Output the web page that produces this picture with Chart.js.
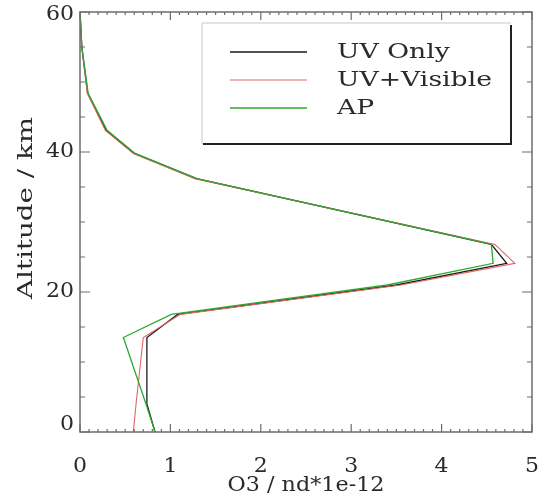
<!DOCTYPE html>
<html>
<head>
<meta charset="utf-8">
<script src="https://cdn.jsdelivr.net/npm/chart.js@4"></script>
<style>
  html, body { margin:0; padding:0; background:#fff; }
  #wrap { width:540px; height:494px; }
</style>
</head>
<body>
<div id="wrap"><canvas id="c" width="540" height="494"></canvas></div>
<script>
// Ozone profiles — altitude (km) vs number density (1e12)
const altitude  = [0,    4,    13.5, 16.8, 21,   24.1, 26.8, 36.2, 39.8, 43.1, 48.4,  55,   60];
const uvOnly    = [0.83, 0.74, 0.74, 1.08, 3.50, 4.72, 4.55, 1.29, 0.60, 0.29, 0.085, 0.02, 0];
const uvVisible = [0.59, 0.62, 0.70, 1.11, 3.55, 4.81, 4.59, 1.27, 0.59, 0.28, 0.080, 0.02, 0];
const apriori   = [0.83, 0.73, 0.48, 1.01, 3.40, 4.57, 4.55, 1.29, 0.61, 0.30, 0.090, 0.02, 0];

const xTicks = [0, 1, 2, 3, 4, 5];
const yTicks = [0, 20, 40, 60];
const seriesLabels = ['UV Only', 'UV+Visible', 'AP'];
const seriesColors = ['#1a1a1a', '#e06464', '#2fa72f'];
const xTitle = 'O3 / nd*1e-12';
const yTitle = 'Altitude / km';

const SERIF = '"DejaVu Serif", "Liberation Serif", serif';
const INK = '#2a2a2a';

const toPoints = vals => vals.map((v, i) => ({ x: v, y: altitude[i] }));

// text, optionally stretched to a given width (reference font is wide)
function drawText(ctx, text, x, y, o){
  ctx.save();
  ctx.font = (o.size || 20) + 'px ' + SERIF;
  let sx = o.sx || 1;
  if(o.width) sx = o.width / ctx.measureText(o.fitText || text).width;
  ctx.translate(x, y);
  if(o.rot) ctx.rotate(o.rot);
  ctx.scale(sx, 1);
  ctx.fillStyle = o.color || INK;
  ctx.textAlign = o.align || 'left';
  ctx.textBaseline = o.base || 'alphabetic';
  ctx.fillText(text, 0, 0);
  ctx.restore();
}

const frame = {
  id: 'frame',
  afterDraw(chart){
    const ctx = chart.ctx, a = chart.chartArea;
    const xs = chart.scales.x, ys = chart.scales.y;
    ctx.save();
    ctx.strokeStyle = '#6e6e6e';
    ctx.lineWidth = 1.5;
    ctx.strokeRect(a.left, a.top, a.right - a.left, a.bottom - a.top);

    // x ticks, inward, bottom + top
    ctx.lineWidth = 1.2;
    ctx.beginPath();
    for(let i = 0; i <= 50; i++){
      const px = xs.getPixelForValue(i / 10);
      const len = i % 10 === 0 ? 8 : 3;
      ctx.moveTo(px, a.bottom); ctx.lineTo(px, a.bottom - len);
      ctx.moveTo(px, a.top);    ctx.lineTo(px, a.top + len);
    }
    // y ticks, inward, left + right
    for(let v = 0; v <= 60; v += 5){
      const py = ys.getPixelForValue(v);
      const len = v % 20 === 0 ? 10 : 5;
      ctx.moveTo(a.left, py);  ctx.lineTo(a.left + len, py);
      ctx.moveTo(a.right, py); ctx.lineTo(a.right - len, py);
    }
    ctx.stroke();
    ctx.restore();

    // tick labels
    xTicks.forEach(v => {
      drawText(ctx, String(v), xs.getPixelForValue(v), 472, { align:'center', size:21, sx:1.05 });
    });
    yTicks.forEach(v => {
      const py = Math.min(Math.max(ys.getPixelForValue(v), 15), 425);
      drawText(ctx, String(v), 74, py, { align:'right', base:'middle', size:21, sx:1.05 });
    });

    // axis titles
    drawText(ctx, xTitle, (a.left + a.right) / 2, 491, { align:'center', size:20, width:157 });
    drawText(ctx, yTitle, 27, 208, { align:'center', base:'middle', rot:-Math.PI / 2, size:21, width:182 });

    // legend box with drop shadow
    const L = 202, T = 23, R = 511, B = 144;
    ctx.save();
    ctx.fillStyle = '#fff';
    ctx.fillRect(L, T, R - L, B - T);
    ctx.strokeStyle = '#c8c8c8';
    ctx.lineWidth = 1;
    ctx.beginPath();
    ctx.moveTo(L, B); ctx.lineTo(L, T); ctx.lineTo(R, T);
    ctx.stroke();
    ctx.strokeStyle = '#222';
    ctx.lineWidth = 2;
    ctx.beginPath();
    ctx.moveTo(R, T + 2); ctx.lineTo(R, B); ctx.lineTo(L + 1, B);
    ctx.stroke();
    ctx.restore();

    seriesLabels.forEach((lab, i) => {
      const ly = 52 + i * 28;
      ctx.save();
      ctx.strokeStyle = seriesColors[i];
      ctx.lineWidth = i === 1 ? 1.2 : 1.6;
      ctx.beginPath();
      ctx.moveTo(230, ly); ctx.lineTo(307, ly);
      ctx.stroke();
      ctx.restore();
      drawText(ctx, lab, 337, ly + 6, { size:21, width:155, fitText:'UV+Visible' });
    });
  }
};

new Chart(document.getElementById('c'), {
  type: 'scatter',
  data: {
    datasets: [
      { label: seriesLabels[0], data: toPoints(uvOnly),    borderColor: seriesColors[0], borderWidth: 1.3, order: 2 },
      { label: seriesLabels[1], data: toPoints(uvVisible), borderColor: seriesColors[1], borderWidth: 1.1, order: 1 },
      { label: seriesLabels[2], data: toPoints(apriori),   borderColor: seriesColors[2], borderWidth: 1.3, order: 0 }
    ].map(d => Object.assign(d, { showLine: true, pointRadius: 0, fill: false, tension: 0 }))
  },
  options: {
    responsive: false,
    animation: false,
    layout: { padding: { top: 12, right: 8, left: 0, bottom: 0 } },
    plugins: { legend: { display: false }, tooltip: { enabled: false } },
    scales: {
      x: {
        type: 'linear', min: 0, max: 5,
        grid: { display: false }, border: { display: false }, ticks: { display: false },
        afterFit(s){ s.height = 62; }
      },
      y: {
        type: 'linear', min: 0, max: 60,
        grid: { display: false }, border: { display: false }, ticks: { display: false },
        afterFit(s){ s.width = 80; }
      }
    }
  },
  plugins: [frame]
});
</script>
</body>
</html>
